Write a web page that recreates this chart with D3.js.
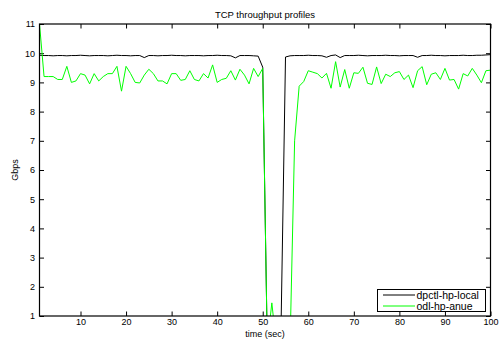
<!DOCTYPE html>
<html>
<head>
<meta charset="utf-8">
<script src="https://cdn.jsdelivr.net/npm/d3@7"></script>
<style>
  html, body { margin: 0; padding: 0; background: #fff; }
  #outer { width: 499px; height: 339px; }
  text { font-family: "Liberation Sans", Arial, Helvetica, sans-serif; fill: #000; }
</style>
</head>
<body>
<div id="outer"></div>
<script>
////////// Data //////////
const seconds = d3.range(1, 101);

const dpctlValues = [
  9.93, 9.92, 9.92, 9.91, 9.92, 9.92, 9.91, 9.92, 9.92, 9.93,
  9.92, 9.91, 9.92, 9.92, 9.92, 9.91, 9.92, 9.93, 9.92, 9.92,
  9.91, 9.92, 9.92, 9.85, 9.92, 9.92, 9.91, 9.92, 9.92, 9.93,
  9.92, 9.92, 9.91, 9.92, 9.92, 9.92, 9.91, 9.92, 9.92, 9.93,
  9.92, 9.92, 9.91, 9.84, 9.92, 9.92, 9.92, 9.91, 9.90, 9.52,
  0.00, 0.00, 0.00, 0.40, 9.87, 9.91, 9.92, 9.92, 9.92, 9.93,
  9.92, 9.92, 9.91, 9.86, 9.92, 9.94, 9.85, 9.92, 9.92, 9.92,
  9.93, 9.92, 9.91, 9.92, 9.92, 9.92, 9.93, 9.92, 9.92, 9.91,
  9.92, 9.92, 9.92, 9.86, 9.92, 9.92, 9.93, 9.92, 9.92, 9.91,
  9.92, 9.92, 9.92, 9.93, 9.92, 9.92, 9.93, 9.93, 9.94, 9.95
];

const odlValues = [
  11.0, 9.20, 9.20, 9.20, 9.10, 9.10, 9.55, 9.00, 9.05, 9.30,
  9.25, 8.95, 9.30, 9.05, 9.20, 9.30, 9.30, 9.55, 8.70, 9.55,
  9.30, 9.00, 8.98, 9.25, 9.45, 9.30, 9.05, 9.05, 8.95, 9.30,
  9.30, 9.07, 9.10, 9.40, 9.10, 9.05, 9.30, 9.15, 9.60, 9.00,
  9.10, 9.14, 9.40, 9.08, 9.45, 9.25, 8.95, 9.48, 9.20, 9.48,
  0.00, 1.45, 0.00, 0.00, 0.00, 0.00, 7.00, 8.87, 9.03, 9.40,
  9.35, 9.30, 9.15, 9.31, 8.80, 9.71, 8.84, 9.44, 8.80, 9.33,
  9.31, 9.52, 8.97, 8.93, 9.53, 8.96, 9.28, 9.20, 9.33, 9.37,
  9.10, 9.25, 8.82, 9.40, 9.54, 8.92, 9.28, 9.33, 9.10, 9.48,
  9.08, 9.10, 8.77, 9.30, 9.22, 9.48, 9.25, 8.99, 9.40, 9.42
];

const seriesNames = ['dpctl-hp-local', 'odl-hp-anue'];
const seriesColors = ['#000000', '#00ff00'];
const xTicks = [10, 20, 30, 40, 50, 60, 70, 80, 90, 100];
const yTicks = [1, 2, 3, 4, 5, 6, 7, 8, 9, 10, 11];

////////// Layout //////////
const width = 499;
const height = 339;
const plot = { left: 39.5, right: 490.5, top: 24, bottom: 316 };
const tickLen = 4.5;
const fontSize = 9;

const svg = d3.select('#outer').append('svg')
  .attr('width', width)
  .attr('height', height);

const x = d3.scaleLinear().domain([1, 100]).range([plot.left, plot.right]);
const y = d3.scaleLinear().domain([1, 11]).range([plot.bottom, plot.top]);

svg.append('defs').append('clipPath')
  .attr('id', 'plotClip')
  .append('rect')
  .attr('x', plot.left)
  .attr('y', plot.top)
  .attr('width', plot.right - plot.left)
  .attr('height', plot.bottom - plot.top);

////////// Axes //////////
const styleAxis = g => {
  g.selectAll('.domain').remove();
  g.selectAll('.tick line').attr('stroke', '#000').attr('stroke-width', 1);
  g.selectAll('.tick text')
    .style('font-size', fontSize + 'px')
    .attr('fill', '#000');
};

svg.append('g')
  .attr('transform', `translate(0,${plot.bottom})`)
  .call(d3.axisBottom(x).tickValues(xTicks).tickSizeInner(-tickLen).tickSizeOuter(0).tickPadding(3))
  .call(styleAxis);

svg.append('g')
  .attr('transform', `translate(0,${plot.top})`)
  .call(d3.axisTop(x).tickValues(xTicks).tickSizeInner(-tickLen).tickSizeOuter(0).tickFormat(''))
  .call(styleAxis);

svg.append('g')
  .attr('transform', `translate(${plot.left},0)`)
  .call(d3.axisLeft(y).tickValues(yTicks).tickSizeInner(-tickLen).tickSizeOuter(0).tickPadding(4.5))
  .call(styleAxis);

svg.append('g')
  .attr('transform', `translate(${plot.right},0)`)
  .call(d3.axisRight(y).tickValues(yTicks).tickSizeInner(-tickLen).tickSizeOuter(0).tickFormat(''))
  .call(styleAxis);

////////// Lines //////////
const line = d3.line()
  .x((d, i) => x(seconds[i]))
  .y(d => y(d));

const lineGroup = svg.append('g').attr('clip-path', 'url(#plotClip)');

[dpctlValues, odlValues].forEach((values, i) => {
  lineGroup.append('path')
    .datum(values)
    .attr('fill', 'none')
    .attr('stroke', seriesColors[i])
    .attr('stroke-width', 1)
    .attr('stroke-linejoin', 'round')
    .attr('d', line);
});

// axes box on top of lines
svg.append('rect')
  .attr('x', plot.left)
  .attr('y', plot.top)
  .attr('width', plot.right - plot.left)
  .attr('height', plot.bottom - plot.top)
  .attr('fill', 'none')
  .attr('stroke', '#000')
  .attr('stroke-width', 1.2);

////////// Labels //////////
const cxPlot = (plot.left + plot.right) / 2;

svg.append('text')
  .attr('x', cxPlot)
  .attr('y', 17.5)
  .attr('text-anchor', 'middle')
  .style('font-size', '9.5px')
  .text('TCP throughput profiles');

svg.append('text')
  .attr('x', cxPlot)
  .attr('y', 337)
  .attr('text-anchor', 'middle')
  .style('font-size', '9px')
  .text('time (sec)');

svg.append('text')
  .attr('transform', `translate(18,${(plot.top + plot.bottom) / 2}) rotate(-90)`)
  .attr('text-anchor', 'middle')
  .style('font-size', '9px')
  .text('Gbps');

////////// Legend //////////
const legend = svg.append('g').attr('transform', 'translate(377.5,289.5)');

legend.append('rect')
  .attr('width', 108)
  .attr('height', 22)
  .attr('fill', '#fff')
  .attr('stroke', '#000')
  .attr('stroke-width', 1);

seriesNames.forEach((name, i) => {
  const rowY = 5.5 + i * 11;
  legend.append('line')
    .attr('x1', 5.5).attr('x2', 37.5)
    .attr('y1', rowY).attr('y2', rowY)
    .attr('stroke', seriesColors[i])
    .attr('stroke-width', 1);
  legend.append('text')
    .attr('x', 39)
    .attr('y', rowY + 3.5)
    .style('font-size', '10.5px')
    .text(name);
});
</script>
</body>
</html>
